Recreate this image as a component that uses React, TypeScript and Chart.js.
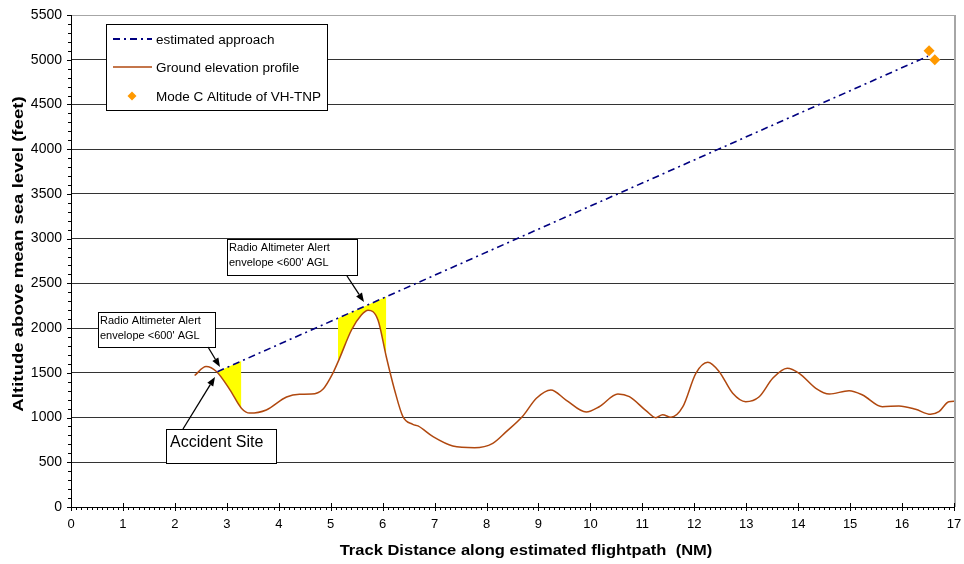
import React, { useEffect, useRef } from 'react';
import { Chart, registerables } from 'chart.js';

Chart.register(...registerables);

// ---- data ----
const groundX = [2.38, 2.6, 2.8, 3.06, 3.28, 3.44, 3.76, 4.15, 4.4, 4.63, 4.85, 5.04, 5.17, 5.4, 5.59, 5.72, 5.91, 6.07, 6.23, 6.39, 6.58, 6.68, 6.97, 7.35, 7.77, 8.12, 8.38, 8.7, 8.96, 9.24, 9.53, 9.92, 10.17, 10.53, 10.75, 11.07, 11.26, 11.39, 11.55, 11.78, 12.03, 12.26, 12.48, 12.74, 12.99, 13.25, 13.51, 13.79, 14.02, 14.34, 14.6, 14.98, 15.24, 15.62, 15.94, 16.26, 16.55, 16.71, 16.9, 17.1];
const groundY = [1470, 1570, 1515, 1310, 1105, 1050, 1085, 1230, 1260, 1262, 1316, 1494, 1662, 1979, 2146, 2200, 2091, 1680, 1308, 1010, 924, 906, 786, 682, 663, 712, 842, 1017, 1215, 1308, 1196, 1062, 1121, 1263, 1233, 1077, 998, 1032, 1003, 1121, 1494, 1618, 1513, 1271, 1177, 1233, 1439, 1551, 1494, 1327, 1263, 1300, 1252, 1121, 1129, 1092, 1036, 1065, 1177, 1185];

const approachX = [2.82, 16.5];
const approachY = [1513, 5040];

const modeCX = [16.52, 16.63];
const modeCY = [5100, 5000];

const alert1X = [2.82, 3.28];
const alert1Y = [1513, 1632];
const alert2X = [5.14, 6.07];
const alert2Y = [2111, 2350];

const seriesNames = ['estimated approach', 'Ground elevation profile', 'Mode C Altitude of VH-TNP'];
const calloutText = ['Radio Altimeter Alert', "envelope <600' AGL"];
const accidentText = 'Accident Site';
const xTitle = 'Track Distance along estimated flightpath  (NM)';
const yTitle = 'Altitude above mean sea level (feet)';

const X_MIN = 0, X_MAX = 17, Y_MIN = 0, Y_MAX = 5500, Y_STEP = 500;

const zip = (xs: number[], ys: number[]) => xs.map((x, i) => ({ x, y: ys[i] }));

const FONT = "'Liberation Sans', Arial, sans-serif";
const NAVY = '#000080';
const BROWN = '#B0480F';
const ORANGE = '#FF9900';
const DASH = [7, 4, 2, 4];

function arrow(ctx: CanvasRenderingContext2D, x1: number, y1: number, x2: number, y2: number) {
  const ang = Math.atan2(y2 - y1, x2 - x1);
  const hl = 9, hw = 3.5;
  const bx = x2 - hl * Math.cos(ang), by = y2 - hl * Math.sin(ang);
  ctx.save();
  ctx.strokeStyle = '#000';
  ctx.fillStyle = '#000';
  ctx.lineWidth = 1.3;
  ctx.beginPath();
  ctx.moveTo(x1, y1);
  ctx.lineTo(bx, by);
  ctx.stroke();
  ctx.beginPath();
  ctx.moveTo(x2, y2);
  ctx.lineTo(bx + hw * Math.sin(ang), by - hw * Math.cos(ang));
  ctx.lineTo(bx - hw * Math.sin(ang), by + hw * Math.cos(ang));
  ctx.closePath();
  ctx.fill();
  ctx.restore();
}

function box(ctx: CanvasRenderingContext2D, x: number, y: number, w: number, h: number) {
  ctx.save();
  ctx.fillStyle = '#fff';
  ctx.fillRect(x, y, w, h);
  ctx.strokeStyle = '#000';
  ctx.lineWidth = 1;
  ctx.strokeRect(x + 0.5, y + 0.5, w, h);
  ctx.restore();
}

function stretchedText(ctx: CanvasRenderingContext2D, text: string, cx: number, cy: number, rot: number, sx: number) {
  ctx.save();
  ctx.translate(cx, cy);
  ctx.rotate(rot);
  ctx.scale(sx, 1);
  ctx.textAlign = 'center';
  ctx.textBaseline = 'middle';
  ctx.fillText(text, 0, 0);
  ctx.restore();
}

const overlay = {
  id: 'overlay',
  afterDraw(chart: any) {
    const ctx: CanvasRenderingContext2D = chart.ctx;
    const { left, right, top, bottom } = chart.chartArea;
    const xs = chart.scales.x, ys = chart.scales.y;
    ctx.save();
    // right border
    ctx.strokeStyle = '#a6a6a6';
    ctx.lineWidth = 2;
    ctx.beginPath();
    ctx.moveTo(right + 1, top);
    ctx.lineTo(right + 1, bottom);
    ctx.stroke();
    // ticks
    ctx.strokeStyle = '#000';
    ctx.lineWidth = 1;
    ctx.beginPath();
    for (let v = Y_MIN; v <= Y_MAX + 1e-6; v += 100) {
      const py = Math.round(ys.getPixelForValue(v)) + 0.5;
      const major = Math.abs(v % Y_STEP) < 1e-6;
      ctx.moveTo(left - (major ? 4 : 3), py);
      ctx.lineTo(left, py);
    }
    for (let i = 0; i <= (X_MAX - X_MIN) * 10; i++) {
      const v = X_MIN + i / 10;
      const px = Math.round(xs.getPixelForValue(v)) + 0.5;
      const major = i % 10 === 0;
      ctx.moveTo(px, bottom - (major ? 4 : 0));
      ctx.lineTo(px, bottom + (major ? 4 : 3));
    }
    ctx.stroke();

    // axis titles
    ctx.fillStyle = '#000';
    ctx.font = `bold 14px ${FONT}`;
    stretchedText(ctx, xTitle, 526, 551, 0, 1.18);
    ctx.font = `bold 15px ${FONT}`;
    stretchedText(ctx, yTitle, 19, 254, -Math.PI / 2, 1.24);

    // legend
    box(ctx, 106, 24, 221, 86);
    ctx.font = `13.5px ${FONT}`;
    ctx.fillStyle = '#000';
    ctx.textBaseline = 'middle';
    ctx.textAlign = 'left';
    const ly = [39, 67, 96];
    ctx.strokeStyle = NAVY;
    ctx.lineWidth = 2;
    ctx.setLineDash(DASH);
    ctx.beginPath();
    ctx.moveTo(113, ly[0]);
    ctx.lineTo(152, ly[0]);
    ctx.stroke();
    ctx.setLineDash([]);
    ctx.strokeStyle = BROWN;
    ctx.lineWidth = 1.5;
    ctx.beginPath();
    ctx.moveTo(113, ly[1]);
    ctx.lineTo(152, ly[1]);
    ctx.stroke();
    ctx.fillStyle = ORANGE;
    ctx.beginPath();
    ctx.moveTo(132, ly[2] - 4.5);
    ctx.lineTo(136.5, ly[2]);
    ctx.lineTo(132, ly[2] + 4.5);
    ctx.lineTo(127.5, ly[2]);
    ctx.closePath();
    ctx.fill();
    ctx.fillStyle = '#000';
    seriesNames.forEach((t, i) => ctx.fillText(t, 156, ly[i] + 1));

    // callouts
    ctx.font = `11px ${FONT}`;
    box(ctx, 227, 239, 130, 36);
    ctx.fillStyle = '#000';
    ctx.fillText(calloutText[0], 229, 248);
    ctx.fillText(calloutText[1], 229, 263);
    arrow(ctx, 347, 276, 364, 302);

    box(ctx, 98, 312, 117, 35);
    ctx.fillStyle = '#000';
    ctx.fillText(calloutText[0], 100, 321);
    ctx.fillText(calloutText[1], 100, 336);
    arrow(ctx, 208, 347, 220, 367);

    box(ctx, 166, 429, 110, 34);
    ctx.fillStyle = '#000';
    ctx.font = `16px ${FONT}`;
    ctx.fillText(accidentText, 170, 443);
    arrow(ctx, 183, 429, 215, 377);

    ctx.restore();
  },
};

export default function App() {
  const ref = useRef<HTMLCanvasElement>(null);
  useEffect(() => {
    Chart.defaults.font.family = FONT;
    Chart.defaults.color = '#000';
    const chart = new Chart(ref.current!, {
      type: 'scatter',
      data: {
        datasets: [
          {
            label: seriesNames[0],
            data: zip(approachX, approachY),
            showLine: true,
            borderColor: NAVY,
            borderWidth: 1.6,
            borderDash: DASH,
            pointRadius: 0,
            fill: false,
            order: 0,
          },
          {
            label: seriesNames[1],
            data: zip(groundX, groundY),
            showLine: true,
            borderColor: BROWN,
            borderWidth: 1.5,
            pointRadius: 0,
            cubicInterpolationMode: 'monotone',
            fill: false,
            order: 1,
          },
          {
            label: seriesNames[2],
            data: zip(modeCX, modeCY),
            showLine: false,
            pointStyle: 'rectRot',
            pointRadius: 5.5,
            backgroundColor: ORANGE,
            borderColor: ORANGE,
            borderWidth: 0,
            order: 0,
          },
          {
            label: 'alert1',
            data: zip(alert1X, alert1Y),
            showLine: true,
            borderWidth: 0,
            borderColor: 'rgba(0,0,0,0)',
            pointRadius: 0,
            backgroundColor: '#FFFF00',
            fill: { target: 1 },
            order: 5,
          },
          {
            label: 'alert2',
            data: zip(alert2X, alert2Y),
            showLine: true,
            borderWidth: 0,
            borderColor: 'rgba(0,0,0,0)',
            pointRadius: 0,
            backgroundColor: '#FFFF00',
            fill: { target: 1 },
            order: 5,
          },
        ],
      } as any,
      options: {
        responsive: false,
        animation: false,
        devicePixelRatio: 1,
        layout: { padding: { left: 8, right: 10, top: 15, bottom: 0 } },
        plugins: {
          legend: { display: false },
          tooltip: { enabled: false },
          title: { display: false },
        },
        scales: {
          x: {
            type: 'linear',
            min: X_MIN,
            max: X_MAX,
            ticks: { stepSize: 1, padding: 10, font: { size: 13 }, maxRotation: 0, autoSkip: false, callback: (v: any) => String(v) },
            grid: { drawOnChartArea: false, drawTicks: false },
            border: { display: true, color: '#000', width: 1 },
            title: { display: false },
            afterFit: (s: any) => { s.height = 57; s.paddingLeft = 0; s.paddingRight = 0; },
          },
          y: {
            type: 'linear',
            min: Y_MIN,
            max: Y_MAX,
            ticks: { stepSize: Y_STEP, padding: 9, font: { size: 14 }, callback: (v: any) => String(v) },
            grid: {
              drawTicks: false,
              color: (c: any) => (c.tick && c.tick.value === Y_MAX ? '#a6a6a6' : '#333'),
              lineWidth: 1,
            },
            border: { display: true, color: '#000', width: 1 },
            title: { display: false },
            afterFit: (s: any) => { s.width = 63; s.paddingTop = 0; s.paddingBottom = 0; },
          },
        },
      } as any,
      plugins: [overlay],
    });
    return () => chart.destroy();
  }, []);
  return (
    <div style={{ position: 'fixed', left: 0, top: 0, width: 964, height: 564, background: '#fff' }}>
      <canvas ref={ref} width={964} height={564} style={{ display: 'block' }} />
    </div>
  );
}
